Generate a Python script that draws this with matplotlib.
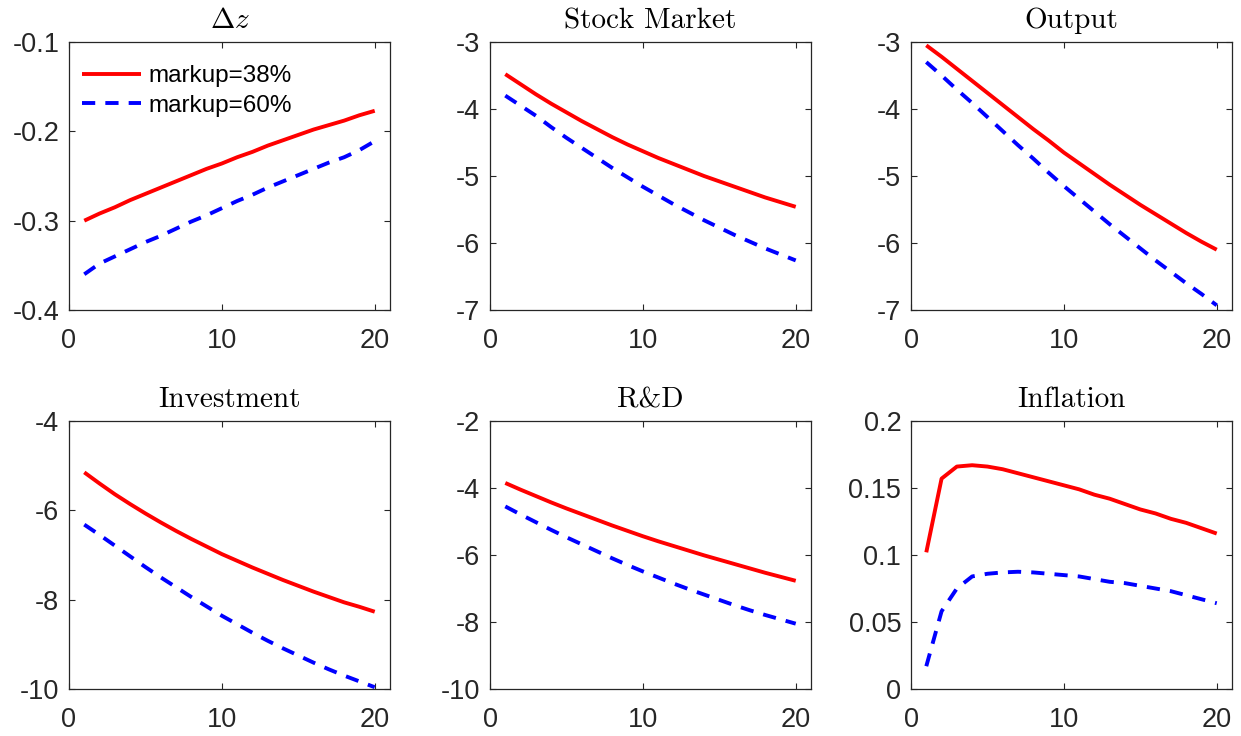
import numpy as np
import matplotlib
matplotlib.use("Agg")
import matplotlib.pyplot as plt

plt.rcParams['font.family'] = ['Liberation Sans', 'DejaVu Sans']
plt.rcParams['mathtext.fontset'] = 'cm'

# horizon
periods = np.arange(1, 21)

# impulse responses, markup=38% (red) and markup=60% (blue)
dz_38 = [-0.300, -0.292, -0.285, -0.277, -0.270, -0.263, -0.256, -0.249, -0.242, -0.236,
         -0.229, -0.223, -0.216, -0.210, -0.204, -0.198, -0.193, -0.188, -0.182, -0.177]
dz_60 = [-0.360, -0.348, -0.340, -0.332, -0.324, -0.317, -0.309, -0.301, -0.294, -0.286,
         -0.278, -0.271, -0.263, -0.256, -0.249, -0.242, -0.235, -0.229, -0.221, -0.211]

stock_38 = [-3.48, -3.63, -3.78, -3.92, -4.05, -4.18, -4.30, -4.42, -4.53, -4.63,
            -4.73, -4.82, -4.91, -5.00, -5.08, -5.16, -5.24, -5.32, -5.39, -5.46]
stock_60 = [-3.80, -3.95, -4.10, -4.27, -4.43, -4.58, -4.73, -4.88, -5.02, -5.16,
            -5.29, -5.42, -5.54, -5.66, -5.77, -5.88, -5.98, -6.08, -6.17, -6.26]

output_38 = [-3.05, -3.22, -3.40, -3.58, -3.76, -3.94, -4.12, -4.30, -4.47, -4.65,
             -4.81, -4.97, -5.13, -5.28, -5.43, -5.57, -5.71, -5.85, -5.98, -6.10]
output_60 = [-3.30, -3.50, -3.71, -3.91, -4.12, -4.33, -4.54, -4.74, -4.95, -5.15,
             -5.34, -5.53, -5.72, -5.90, -6.08, -6.26, -6.43, -6.60, -6.76, -6.93]

invest_38 = [-5.15, -5.40, -5.64, -5.86, -6.07, -6.27, -6.46, -6.64, -6.81, -6.98,
             -7.13, -7.28, -7.42, -7.56, -7.69, -7.82, -7.94, -8.06, -8.16, -8.27]
invest_60 = [-6.32, -6.55, -6.79, -7.03, -7.27, -7.50, -7.72, -7.94, -8.15, -8.36,
             -8.55, -8.74, -8.92, -9.09, -9.25, -9.41, -9.56, -9.70, -9.83, -9.96]

rd_38 = [-3.85, -4.05, -4.24, -4.43, -4.61, -4.78, -4.95, -5.12, -5.28, -5.44,
         -5.59, -5.73, -5.87, -6.01, -6.14, -6.27, -6.40, -6.53, -6.65, -6.77]
rd_60 = [-4.55, -4.79, -5.02, -5.25, -5.47, -5.68, -5.89, -6.10, -6.30, -6.49,
         -6.67, -6.85, -7.02, -7.18, -7.34, -7.50, -7.65, -7.79, -7.92, -8.05]

infl_38 = [0.102, 0.157, 0.166, 0.167, 0.166, 0.164, 0.161, 0.158, 0.155, 0.152,
           0.149, 0.145, 0.142, 0.138, 0.134, 0.131, 0.127, 0.124, 0.120, 0.116]
infl_60 = [0.017, 0.058, 0.075, 0.084, 0.086, 0.087, 0.0875, 0.087, 0.086, 0.085,
           0.084, 0.082, 0.080, 0.079, 0.077, 0.075, 0.073, 0.070, 0.067, 0.064]

titles = [r'$\Delta z$', 'Stock Market', 'Output', 'Investment', 'R&D', 'Inflation']
series = [(dz_38, dz_60), (stock_38, stock_60), (output_38, output_60),
          (invest_38, invest_60), (rd_38, rd_60), (infl_38, infl_60)]
ylims = [(-0.4, -0.1), (-7, -3), (-7, -3), (-10, -4), (-10, -2), (0, 0.2)]
yticks = [[-0.4, -0.3, -0.2, -0.1], [-7, -6, -5, -4, -3], [-7, -6, -5, -4, -3],
          [-10, -8, -6, -4], [-10, -8, -6, -4, -2], [0, 0.05, 0.1, 0.15, 0.2]]
ytick_labels = [['-0.4', '-0.3', '-0.2', '-0.1'], ['-7', '-6', '-5', '-4', '-3'],
                ['-7', '-6', '-5', '-4', '-3'], ['-10', '-8', '-6', '-4'],
                ['-10', '-8', '-6', '-4', '-2'], ['0', '0.05', '0.1', '0.15', '0.2']]

W, H = 1241, 736
fig = plt.figure(figsize=(W / 100, H / 100), dpi=100)

lefts = [69, 490, 911]
tops = [42, 421]
aw, ah = 321, 268
frame = '#262626'

for i in range(6):
    r, c = divmod(i, 3)
    ax = fig.add_axes([lefts[c] / W, 1 - (tops[r] + ah) / H, aw / W, ah / H])
    a, b = series[i]
    ax.plot(periods, a, color='red', lw=2.8, solid_capstyle='butt', label='markup=38%')
    ax.plot(periods, b, color='blue', lw=2.8, dashes=(3.4, 2.6), dash_capstyle='butt',
            label='markup=60%')
    ax.set_xlim(0, 21)
    ax.set_ylim(*ylims[i])
    ax.set_xticks([0, 10, 20])
    ax.set_xticklabels(['0', '10', '20'])
    ax.set_yticks(yticks[i])
    ax.set_yticklabels(ytick_labels[i])
    ax.tick_params(direction='in', top=True, right=True, length=4, width=0.8,
                   colors=frame, labelsize=19.5)
    ax.tick_params(axis='y', pad=7)
    ax.tick_params(axis='x', pad=13)
    for s in ax.spines.values():
        s.set_color(frame)
        s.set_linewidth(0.9)
    if i == 0:
        ax.set_title(titles[i], fontsize=21, pad=10)
    else:
        ax.set_title(titles[i], fontsize=21, pad=10, family='cmr10')
    if i == 0:
        ax.legend(loc='upper left', bbox_to_anchor=(0, 0.963), frameon=False,
                  fontsize=17.5, handlelength=2.4, handletextpad=0.3,
                  borderaxespad=0.15, labelspacing=0.3, borderpad=0.4)

fig.savefig('out.png', dpi=100)
